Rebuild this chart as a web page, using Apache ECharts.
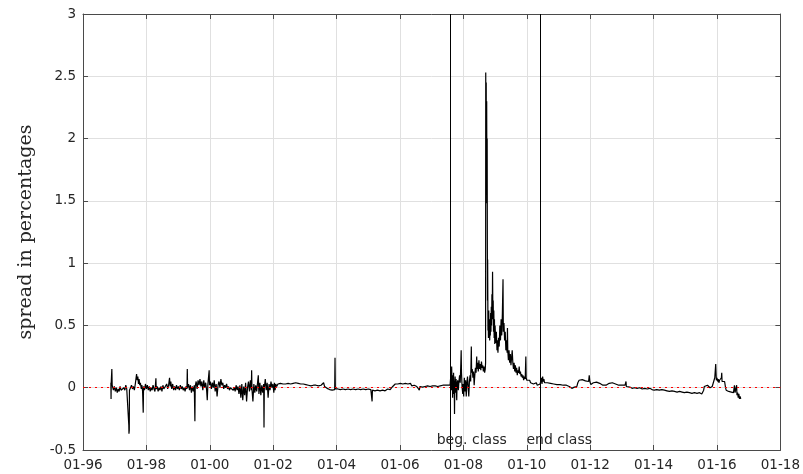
<!DOCTYPE html>
<html>
<head>
<meta charset="utf-8">
<script src="https://cdn.jsdelivr.net/npm/echarts@6/dist/echarts.min.js"></script>
<style>html,body{margin:0;padding:0;background:#fff;}#chart{width:803px;height:474px;}</style>
</head>
<body>
<div id="chart"></div>
<script>
// x = decimal year, y = spread in percentages
const era1 = [
[1996.88,0.04],[1996.885,-0.09],[1996.89,0.04],[1996.91,0.15],[1996.92,0.02],[1996.94,0.01],[1996.96,-0.02],[1996.99,0.01],
[1997.02,-0.03],[1997.05,0.0],[1997.08,-0.04],[1997.11,-0.01],[1997.14,-0.03],[1997.17,0.01],[1997.20,-0.02],[1997.23,-0.01],
[1997.26,-0.03],[1997.29,0.0],[1997.32,-0.02],[1997.35,0.02],[1997.38,-0.01],[1997.41,0.0],[1997.43,-0.02],[1997.445,-0.30],
[1997.45,-0.37],[1997.455,-0.385],[1997.46,-0.34],[1997.465,-0.02],[1997.50,0.0],[1997.53,0.02],[1997.56,-0.01],[1997.59,0.01],
[1997.62,-0.02],[1997.65,0.03],[1997.67,0.07],[1997.69,0.11],[1997.71,0.06],[1997.73,0.09],[1997.75,0.03],[1997.77,0.07],
[1997.79,0.02],[1997.81,0.04],[1997.84,-0.01],[1997.86,0.02],[1997.88,-0.03],[1997.90,-0.2],[1997.91,0.01],[1997.94,-0.02],
[1997.97,0.03],[1998.0,-0.01],[1998.03,0.02],[1998.06,-0.02],[1998.09,0.01],[1998.12,-0.03],[1998.15,0.0],[1998.18,-0.02],
[1998.21,0.02],[1998.24,-0.01],[1998.27,-0.03],[1998.30,0.075],[1998.31,-0.01],[1998.34,0.01],[1998.37,-0.03],[1998.40,0.0],
[1998.43,-0.02],[1998.46,0.01],[1998.49,-0.03],[1998.52,0.02],[1998.55,-0.01],[1998.58,0.0],[1998.61,-0.02],[1998.64,0.03],
[1998.67,-0.01],[1998.70,0.02],[1998.73,0.08],[1998.75,0.01],[1998.77,0.05],[1998.80,-0.01],[1998.83,0.03],[1998.86,-0.02],
[1998.89,0.01],[1998.92,-0.02],[1998.95,0.02],[1998.98,-0.01],[1999.01,0.01],[1999.04,-0.02],[1999.07,0.02],[1999.10,-0.01],
[1999.13,0.01],[1999.16,-0.02],[1999.19,0.0],[1999.22,-0.03],[1999.25,0.01],[1999.28,-0.01],[1999.29,0.15],[1999.30,0.0],
[1999.33,0.03],[1999.36,-0.02],[1999.39,0.02],[1999.42,-0.04],[1999.45,0.01],[1999.48,-0.03],[1999.51,0.02],[1999.53,-0.27],
[1999.54,0.01],[1999.57,0.05],[1999.60,-0.01],[1999.63,0.06],[1999.66,0.02],[1999.69,0.07],[1999.72,0.01],[1999.75,0.05],
[1999.78,-0.02],[1999.81,0.06],[1999.84,0.0],[1999.87,0.04],[1999.90,-0.02],[1999.92,-0.1],[1999.94,0.03],[1999.98,0.14],
[1999.99,0.02],[2000.02,0.05],[2000.05,-0.01],[2000.08,0.04],[2000.11,0.0],[2000.14,0.06],[2000.17,-0.03],[2000.20,0.03],
[2000.23,-0.07],[2000.26,0.02],[2000.29,0.05],[2000.32,0.0],[2000.35,0.07],[2000.38,0.02],[2000.41,0.04],[2000.44,-0.01],
[2000.47,0.02],[2000.50,0.0],[2000.53,0.03],[2000.56,-0.01],[2000.59,0.01],[2000.62,-0.02],[2000.65,0.0],[2000.68,-0.01],
[2000.71,0.01],[2000.74,-0.02],[2000.77,0.0],[2000.80,-0.03],[2000.83,0.02],[2000.86,-0.02],[2000.89,0.01],[2000.92,-0.05],
[2000.95,0.02],[2000.98,-0.08],[2001.01,0.03],[2001.04,-0.1],[2001.07,0.01],[2001.10,-0.06],[2001.13,0.04],[2001.16,-0.11],
[2001.19,0.0],[2001.22,0.05],[2001.25,-0.03],[2001.28,0.06],[2001.31,-0.02],[2001.32,0.14],[2001.33,-0.01],[2001.36,-0.11],
[2001.39,0.03],[2001.42,-0.04],[2001.45,0.02],[2001.48,-0.03],[2001.51,0.05],[2001.53,0.1],[2001.55,-0.05],[2001.58,0.04],
[2001.61,-0.06],[2001.64,0.02],[2001.67,-0.04],[2001.70,0.03],[2001.71,-0.32],[2001.72,0.0],[2001.75,0.07],[2001.78,-0.02],
[2001.81,0.04],[2001.84,-0.08],[2001.87,0.03],[2001.90,-0.02],[2001.93,0.05],[2001.96,0.0]
];
const era2 = [
[2001.99,0.03],[2002.02,-0.04],[2002.04,0.04],[2002.06,-0.02],[2002.08,0.03],[2002.11,0.01],[2002.15,0.03],[2002.19,0.02],
[2002.23,0.035],[2002.27,0.02],[2002.31,0.03],[2002.35,0.015],[2002.39,0.03],[2002.43,0.02],[2002.47,0.035],[2002.51,0.02],
[2002.55,0.03],[2002.59,0.025],[2002.63,0.035],[2002.67,0.03],[2002.71,0.04],[2002.75,0.025],[2002.79,0.035],[2002.83,0.02],
[2002.87,0.03],[2002.91,0.015],[2002.95,0.03],[2002.99,0.02],[2003.03,0.025],[2003.07,0.01],[2003.11,0.02],[2003.15,0.005],
[2003.19,0.015],[2003.23,0.0],[2003.27,0.02],[2003.31,0.01],[2003.35,0.02],[2003.39,0.005],[2003.43,0.015],[2003.47,0.0],
[2003.51,0.02],[2003.55,0.01],[2003.59,0.04],[2003.62,0.01],[2003.66,0.015],[2003.70,-0.005],[2003.74,0.0],[2003.78,-0.015],
[2003.82,-0.01],[2003.86,-0.02],[2003.90,-0.01],[2003.94,-0.015],[2003.95,0.24],[2003.96,-0.01],[2004.0,-0.02],[2004.04,-0.01],
[2004.08,-0.02],[2004.12,-0.015],[2004.16,-0.025],[2004.20,-0.01],[2004.24,-0.02],[2004.28,-0.015],[2004.32,-0.025],[2004.36,-0.01],
[2004.40,-0.02],[2004.44,-0.015],[2004.48,-0.025],[2004.52,-0.01],[2004.56,-0.02],[2004.60,-0.015],[2004.64,-0.025],[2004.68,-0.01],
[2004.72,-0.02],[2004.76,-0.015],[2004.80,-0.02],[2004.84,-0.01],[2004.88,-0.025],[2004.92,-0.015],[2004.96,-0.02],[2005.00,-0.01],
[2005.04,-0.02],[2005.08,-0.015],[2005.11,-0.02],[2005.12,-0.11],[2005.13,-0.02],[2005.17,-0.01],[2005.21,-0.025],[2005.25,-0.015],
[2005.29,-0.02],[2005.33,-0.01],[2005.37,-0.025],[2005.41,-0.015],[2005.45,-0.02],[2005.49,-0.01],[2005.53,-0.025],[2005.57,-0.02],
[2005.61,-0.01],[2005.65,-0.02],[2005.69,-0.015],[2005.73,-0.005],[2005.77,0.01],[2005.81,0.02],[2005.85,0.03],[2005.89,0.02],
[2005.93,0.03],[2005.97,0.025],[2006.01,0.035],[2006.05,0.02],[2006.09,0.03],[2006.13,0.025],[2006.17,0.035],[2006.21,0.02],
[2006.25,0.03],[2006.29,0.025],[2006.33,0.035],[2006.37,0.015],[2006.41,0.03],[2006.45,0.02],[2006.49,0.03],[2006.53,0.01],
[2006.57,0.02],[2006.61,-0.02],[2006.63,0.01],[2006.67,0.02],[2006.71,0.005],[2006.75,0.02],[2006.79,0.01],[2006.83,0.025],
[2006.87,0.015],[2006.91,0.02],[2006.95,0.01],[2006.99,0.02],[2007.03,0.015],[2007.07,0.025],[2007.11,0.015],[2007.15,0.02],
[2007.19,0.01],[2007.23,0.02],[2007.27,0.015],[2007.31,0.025],[2007.35,0.02],[2007.39,0.025],[2007.43,0.02],[2007.47,0.025],
[2007.51,0.02],[2007.55,0.025],[2007.58,0.02]
];
const era3 = [
[2007.60,0.03],[2007.61,0.12],[2007.62,-0.02],[2007.63,0.17],[2007.64,0.05],[2007.65,0.1],[2007.66,-0.08],[2007.67,0.08],
[2007.68,0.02],[2007.69,0.12],[2007.70,-0.05],[2007.71,0.05],[2007.72,-0.21],[2007.73,0.04],[2007.74,0.09],[2007.75,-0.04],
[2007.77,0.07],[2007.79,-0.1],[2007.80,0.03],[2007.82,0.06],[2007.84,-0.02],[2007.86,0.05],[2007.88,0.1],[2007.90,0.04],
[2007.92,0.2],[2007.93,0.3],[2007.94,0.12],[2007.96,0.0],[2007.98,-0.05],[2007.99,0.03],[2008.01,-0.07],[2008.03,0.08],
[2008.05,-0.03],[2008.07,0.06],[2008.09,-0.07],[2008.11,0.04],[2008.13,0.09],[2008.15,0.01],[2008.17,-0.07],[2008.19,0.05],
[2008.21,0.1],[2008.23,0.05],[2008.25,0.33],[2008.26,0.12],[2008.28,0.15],[2008.30,0.08],[2008.32,0.13],[2008.34,0.02],
[2008.36,0.1],[2008.38,0.16],[2008.40,0.12],[2008.42,0.25],[2008.43,0.15],[2008.45,0.2],[2008.47,0.13],[2008.49,0.22],
[2008.51,0.15],[2008.53,0.19],[2008.55,0.14],[2008.57,0.21],[2008.59,0.16],[2008.61,0.18],[2008.63,0.13],[2008.65,0.17],
[2008.67,0.12],[2008.69,0.15],[2008.70,0.2],[2008.705,2.53],[2008.712,1.9],[2008.72,2.45],[2008.727,1.55],[2008.735,2.3],
[2008.742,1.48],[2008.75,2.0],[2008.755,1.2],[2008.76,0.7],[2008.765,1.03],[2008.775,0.46],[2008.78,0.6],[2008.79,0.4],
[2008.80,0.62],[2008.81,0.45],[2008.82,0.55],[2008.83,0.38],[2008.84,0.5],[2008.85,0.42],[2008.86,0.6],[2008.87,0.45],
[2008.88,0.65],[2008.89,0.5],[2008.90,0.75],[2008.91,0.55],[2008.92,0.93],[2008.93,0.6],[2008.94,0.7],[2008.95,0.45],
[2008.96,0.62],[2008.97,0.4],[2008.98,0.55],[2008.99,0.35],[2009.00,0.5],[2009.02,0.36],[2009.04,0.45],[2009.06,0.3],
[2009.08,0.38],[2009.09,0.28],[2009.11,0.4],[2009.13,0.33],[2009.15,0.5],[2009.17,0.38],[2009.19,0.55],[2009.21,0.42],
[2009.23,0.6],[2009.25,0.87],[2009.26,0.45],[2009.28,0.52],[2009.30,0.38],[2009.32,0.45],[2009.34,0.3],[2009.36,0.38],
[2009.38,0.28],[2009.39,0.48],[2009.40,0.3],[2009.42,0.22],[2009.44,0.3],[2009.46,0.2],[2009.48,0.27],[2009.50,0.18],
[2009.52,0.24],[2009.54,0.3],[2009.56,0.2],[2009.58,0.15],[2009.60,0.2],[2009.62,0.13],[2009.64,0.18],[2009.66,0.12],
[2009.68,0.16],[2009.70,0.1],[2009.72,0.14],[2009.74,0.12],[2009.76,0.17],[2009.78,0.11],[2009.80,0.13],[2009.82,0.09],
[2009.84,0.11],[2009.86,0.08],[2009.88,0.1],[2009.90,0.06],[2009.92,0.09],[2009.95,0.07],[2009.97,0.25],[2009.98,0.08],
[2010.00,0.06],[2010.03,0.07],[2010.06,0.05],[2010.09,0.06],[2010.12,0.04],[2010.15,0.05],[2010.18,0.04],[2010.21,0.03],
[2010.24,0.045],[2010.27,0.03],[2010.30,0.04],[2010.33,0.02],[2010.36,0.035],[2010.39,0.02],[2010.42,0.03],[2010.44,0.05],
[2010.46,0.08],[2010.48,0.03],[2010.50,0.09],[2010.52,0.05],[2010.54,0.07],[2010.56,0.04]
];
const era4 = [
[2010.60,0.045],[2010.65,0.04],[2010.70,0.045],[2010.75,0.035],[2010.80,0.04],[2010.85,0.03],[2010.90,0.035],[2010.95,0.025],
[2011.00,0.03],[2011.05,0.025],[2011.10,0.03],[2011.15,0.02],[2011.20,0.025],[2011.25,0.02],[2011.30,0.02],[2011.34,0.01],
[2011.38,0.015],[2011.42,-0.005],[2011.46,-0.01],[2011.50,0.005],[2011.54,-0.005],[2011.58,0.01],[2011.61,0.04],[2011.65,0.06],
[2011.70,0.055],[2011.75,0.065],[2011.80,0.05],[2011.85,0.055],[2011.90,0.06],[2011.95,0.05],[2011.97,0.1],[2011.99,0.05],
[2012.02,0.025],[2012.06,0.02],[2012.10,0.04],[2012.15,0.035],[2012.20,0.045],[2012.25,0.04],[2012.30,0.035],[2012.35,0.03],
[2012.40,0.02],[2012.45,0.025],[2012.50,0.02],[2012.55,0.03],[2012.60,0.035],[2012.65,0.045],[2012.70,0.04],[2012.75,0.035],
[2012.80,0.03],[2012.85,0.025],[2012.90,0.02],[2012.95,0.025],[2013.00,0.02],[2013.05,0.025],[2013.10,0.02],[2013.13,0.05],
[2013.14,0.01],[2013.18,0.0],[2013.25,0.005],[2013.32,-0.005],[2013.40,0.0],[2013.48,-0.005],[2013.56,0.0],[2013.64,-0.01],
[2013.72,-0.005],[2013.80,-0.01],[2013.88,-0.005],[2013.95,-0.015],[2014.02,-0.02],[2014.10,-0.015],[2014.18,-0.02],[2014.26,-0.015],
[2014.34,-0.02],[2014.42,-0.025],[2014.50,-0.03],[2014.58,-0.025],[2014.66,-0.03],[2014.74,-0.035],[2014.82,-0.03],[2014.90,-0.035],
[2014.97,-0.04],[2015.05,-0.035],[2015.13,-0.04],[2015.21,-0.045],[2015.29,-0.04],[2015.37,-0.045],[2015.45,-0.04],[2015.52,-0.05],
[2015.55,-0.045],[2015.58,-0.02],[2015.60,0.01],[2015.63,0.0],[2015.66,0.01],[2015.70,0.02],[2015.73,0.01],[2015.76,0.03],
[2015.78,0.0],[2015.81,0.005],[2015.85,0.01],[2015.88,0.0],[2015.91,0.02],[2015.93,0.08],[2015.96,0.19],[2015.97,0.12],
[2015.98,0.06],[2016.00,0.08],[2016.02,0.05],[2016.04,0.07],[2016.06,0.04],[2016.08,0.06],[2016.10,0.045],[2016.12,0.06],
[2016.14,0.08],[2016.15,0.12],[2016.16,0.05],[2016.18,0.04],[2016.20,0.06],[2016.22,0.035],[2016.24,0.05],[2016.27,0.0],
[2016.29,-0.02],[2016.33,-0.015],[2016.37,-0.03],[2016.41,-0.02],[2016.45,-0.035],[2016.49,-0.03],[2016.52,-0.04],[2016.55,0.02],
[2016.57,-0.04],[2016.59,-0.05],[2016.61,-0.03],[2016.62,0.02],[2016.63,-0.06],[2016.65,-0.04],[2016.67,-0.08],[2016.69,-0.05],
[2016.71,-0.09],[2016.73,-0.07],[2016.75,-0.09]
];
const classDates = [2007.6, 2010.43];
const classLabels = ['beg. class', 'end class'];
const xTickLabels = ['01-96','01-98','01-00','01-02','01-04','01-06','01-08','01-10','01-12','01-14','01-16','01-18'];
const yTicks = [-0.5, 0, 0.5, 1, 1.5, 2, 2.5, 3];

const spread = era1.concat(era2, era3, era4);

const axisColor = '#4a4a4a';
const textColor = '#262626';
const chart = echarts.init(document.getElementById('chart'), null, {renderer: 'canvas'});
const baseX = {
  type: 'value', min: 1996, max: 2018, interval: 2,
  axisLine: {show: true, onZero: false, lineStyle: {color: axisColor, width: 1}},
  axisTick: {show: true, inside: true, length: 5, lineStyle: {color: axisColor}}
};
const baseY = {
  type: 'value', min: yTicks[0], max: yTicks[yTicks.length - 1], interval: 0.5,
  axisLine: {show: true, onZero: false, lineStyle: {color: axisColor, width: 1}},
  axisTick: {show: true, inside: true, length: 5, lineStyle: {color: axisColor}}
};
chart.setOption({
  animation: false,
  backgroundColor: '#ffffff',
  grid: {left: 83, right: 22, top: 14, bottom: 24, containLabel: false},
  xAxis: [
    Object.assign({}, baseX, {
      position: 'bottom',
      axisLabel: {color: textColor, fontFamily: 'DejaVu Sans', fontSize: 13.5, margin: 8,
        formatter: v => xTickLabels[Math.round((v - 1996) / 2)]},
      splitLine: {show: true, lineStyle: {color: '#e0e0e0', width: 1}}
    }),
    Object.assign({}, baseX, {position: 'top', axisLabel: {show: false}, splitLine: {show: false}})
  ],
  yAxis: [
    Object.assign({}, baseY, {
      position: 'left',
      name: 'spread in percentages', nameLocation: 'middle', nameGap: 47,
      nameTextStyle: {color: textColor, fontFamily: 'DejaVu Serif', fontSize: 19},
      axisLabel: {color: textColor, fontFamily: 'DejaVu Sans', fontSize: 13.5, margin: 7},
      splitLine: {show: true, lineStyle: {color: '#e0e0e0', width: 1}}
    }),
    Object.assign({}, baseY, {position: 'right', axisLabel: {show: false}, splitLine: {show: false}})
  ],
  series: [
    {
      type: 'line', xAxisIndex: 0, yAxisIndex: 0,
      data: spread, showSymbol: false, symbol: 'none', sampling: null,
      lineStyle: {color: '#000000', width: 1.2}, z: 3,
      markLine: {
        silent: true, symbol: 'none', animation: false,
        label: {show: false},
        data: [
          {yAxis: 0, lineStyle: {color: '#ff0000', type: [2, 4], width: 1}},
          {xAxis: classDates[0], lineStyle: {color: '#000000', type: 'solid', width: 1}},
          {xAxis: classDates[1], lineStyle: {color: '#000000', type: 'solid', width: 1}}
        ]
      },
      markPoint: {
        silent: true, symbol: 'circle', symbolSize: 0,
        label: {show: true, position: 'right', distance: 0, offset: [-14, 0],
          color: textColor, fontFamily: 'DejaVu Sans', fontSize: 14,
          formatter: p => p.name},
        data: classDates.map((d, i) => ({name: classLabels[i], coord: [d, -0.42]}))
      }
    }
  ]
});
</script>
</body>
</html>
